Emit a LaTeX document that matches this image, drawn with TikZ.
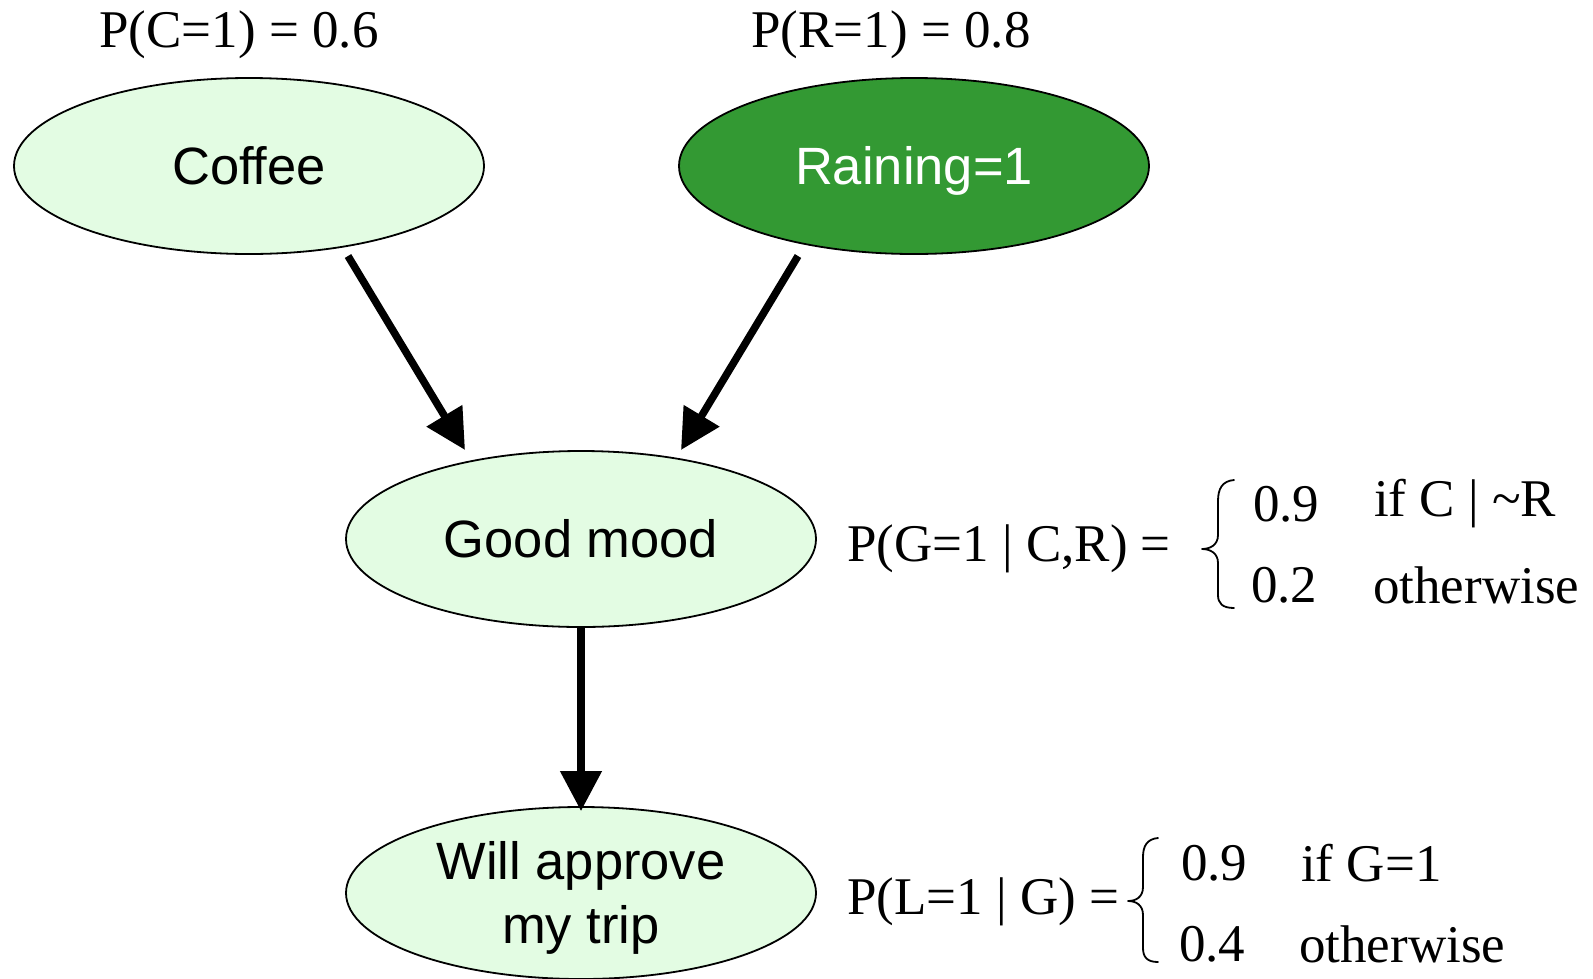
\documentclass[tikz,border=0pt]{standalone}
\usepackage{fontspec}
\setmainfont{Liberation Serif}
\setsansfont{Liberation Sans}
\usetikzlibrary{arrows.meta,calc,shapes.geometric}
\definecolor{lightnode}{HTML}{E3FCE3}
\definecolor{darknode}{HTML}{339933}
\tikzset{
  var/.style={ellipse, draw=black, line width=1.8pt, fill=lightnode, inner sep=0pt,
    minimum width=470pt, minimum height=176pt, text height=37pt, text depth=0pt,
    font=\sffamily\fontsize{52.5}{64}\selectfont},
  observed/.style={var, fill=darknode, text=white},
  prob/.style={font=\fontsize{53}{60}\selectfont, inner sep=0pt},
  edge/.style={line width=7.5pt, -{Triangle[length=40pt,width=40pt]}},
  bracepath/.style={line width=1.8pt, line join=round, line cap=round}
}
\begin{document}
\begin{tikzpicture}[x=1pt,y=1pt]
\useasboundingbox (0,0) rectangle (1593,-978);

% variables
\node[var] (coffee) at (249,-166) {Coffee};
\node[observed] (rain) at (914,-166) {Raining=1};
\node[var] (good) at (581,-539) {Good mood};
\node[var, minimum height=172pt, text depth=65pt] (approve) at (581,-893)
  {\begin{tabular}[t]{@{}c@{}}Will approve\\my trip\end{tabular}};

% priors
\node[prob] (pc) at (239,-35) {P(C=1) = 0.6};
\node[prob] (pr) at (891,-35) {P(R=1) = 0.8};

% dependencies
\draw[edge] ($(coffee.center)+(99,-90)$) -- ($(good.center)+(-116,89)$);
\draw[edge] ($(rain.center)+(-116,-90)$) -- ($(good.center)+(100,89)$);
\draw[edge] (good.south) -- ($(approve.north)+(0,-5)$);

% conditional table for G
\node[prob, anchor=west] (pg) at (847,-549) {P(G=1 | C,R) =};
\coordinate (bg) at (1202,-549);
\draw[bracepath] ($(bg)+(32,69)$) .. controls ($(bg)+(20,68)$) and ($(bg)+(16,60)$) .. ($(bg)+(16,48)$)
  -- ($(bg)+(16,14)$) .. controls ($(bg)+(16,4)$) and ($(bg)+(8,0)$) .. (bg)
  .. controls ($(bg)+(8,0)$) and ($(bg)+(16,-4)$) .. ($(bg)+(16,-14)$)
  -- ($(bg)+(16,-46)$) .. controls ($(bg)+(16,-54)$) and ($(bg)+(20,-59)$) .. ($(bg)+(32,-59)$);
\node[prob, anchor=west] (g1v) at (1253,-504) {0.9};
\node[prob, anchor=west] (g1c) at (1374,-504) {if C | \textasciitilde R};
\node[prob, anchor=west] (g2v) at (1251,-585) {0.2};
\node[prob, anchor=west] (g2c) at (1373,-585) {otherwise};

% conditional table for L
\node[prob, anchor=west] (pl) at (847,-902) {P(L=1 | G) =};
\coordinate (bl) at (1128,-901);
\draw[bracepath] ($(bl)+(30,63)$) .. controls ($(bl)+(19,62)$) and ($(bl)+(15,55)$) .. ($(bl)+(15,44)$)
  -- ($(bl)+(15,14)$) .. controls ($(bl)+(15,4)$) and ($(bl)+(8,0)$) .. (bl)
  .. controls ($(bl)+(8,0)$) and ($(bl)+(15,-4)$) .. ($(bl)+(15,-14)$)
  -- ($(bl)+(15,-47)$) .. controls ($(bl)+(15,-56)$) and ($(bl)+(19,-61)$) .. ($(bl)+(30,-61)$);
\node[prob, anchor=west] (l1v) at (1181,-863) {0.9};
\node[prob, anchor=west] (l1c) at (1301,-863) {if G=1};
\node[prob, anchor=west] (l2v) at (1179,-944) {0.4};
\node[prob, anchor=west] (l2c) at (1299,-944) {otherwise};
\end{tikzpicture}
\end{document}
